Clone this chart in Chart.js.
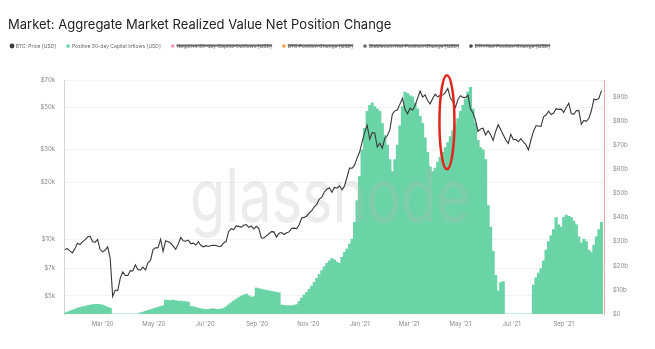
<!DOCTYPE html>
<html><head><meta charset="utf-8">
<script src="https://cdn.jsdelivr.net/npm/chart.js@4.4.1/dist/chart.umd.min.js"></script>
<style>
html,body{margin:0;padding:0;background:#fff;}
#wrap{position:relative;width:655px;height:349px;overflow:hidden;}
canvas{position:absolute;left:0;top:0;}
#title{position:absolute;left:8px;top:15px;font:400 13px Inter, sans-serif;color:#222;white-space:nowrap;line-height:18px;}
</style></head><body>
<div id="wrap"><canvas id="c" width="655" height="349"></canvas><div id="title">Market: Aggregate Market Realized Value Net Position Change</div></div>
<script>
// ---- data (sampled every 3 days) ----
const startDate = '2020-01-16';
const stepDays = 3;
const btcPrice = [
 8800,8900,8650,8450,8900,9500,9350,9700,9900,10250,
 10350,9700,9600,9950,8800,8550,8750,9100,7900,4950,
 5360,5330,6200,6700,6400,6400,6800,6770,7300,6900,
 6850,7100,6850,7500,7700,8800,8980,9000,9980,8600,
 9800,9680,9500,9180,8840,9400,10200,9800,9750,9880,
 9460,9520,9300,9680,9250,9100,9230,9130,9250,9280,
 9240,9130,9170,9530,9700,10950,11350,11230,11750,11680,
 11580,11850,11950,11550,11750,11330,11700,11400,10150,10130,
 10400,10680,10950,10920,10250,10730,10840,10580,10800,10920,
 11380,11430,11360,11920,12950,13040,13270,13740,14150,14830,
 15300,16320,16700,17800,18400,18750,17730,18800,18650,19200,
 18300,19150,21300,23850,23800,24700,27000,29000,32800,36800,
 40200,33900,36800,36600,30800,32300,30400,34300,35500,38000,
 46200,48000,48600,52100,56000,48900,46300,49600,48400,51200,
 56000,61200,56800,58300,54500,52300,55800,58800,57000,58000,
 58200,60000,63200,56200,53800,50100,55000,57800,56600,56400,
 58200,49200,46700,42900,37300,38400,38800,35700,37600,35800,
 33400,37300,40500,38100,35800,33700,32200,36000,33800,33800,
 32900,34200,32800,31800,29800,33600,37300,40000,39900,39700,
 44600,45600,47800,45900,46700,49300,48900,49000,47100,50000,
 52700,46400,46000,48100,48300,40700,42700,42200,43800,48200,
 55300,54900,56000,61500
];
// Positive 30-day Capital Inflows, billions USD
const positiveInflows = [
 0.4,0.8,1.2,1.6,2.0,2.4,2.7,3.0,3.2,3.5,
 3.7,3.9,4.0,4.0,3.9,3.7,3.3,2.8,2.4,0,
 0,0,0,0,0,0,0,0,0,0,
 0.5,0.8,1.1,1.5,1.8,2.2,2.5,2.8,3.1,3.4,
 5.8,5.7,5.6,5.8,5.5,5.3,5.4,5.1,5.2,4.9,
 3.1,3.0,2.8,2.4,2.2,2.0,1.8,1.9,2.1,2.2,
 2.0,1.9,2.1,2.4,3.0,3.8,4.6,5.4,6.1,6.8,
 7.4,7.9,8.3,7.6,7.0,7.2,10.8,10.5,10.3,10.0,
 9.8,9.6,9.4,9.2,9.0,8.8,3.7,3.6,3.4,3.5,
 3.4,3.6,3.9,5.2,6.6,7.9,9.0,10.3,11.6,13.2,
 14.8,16.4,18.0,19.6,21.0,22.0,23.0,22.4,21.5,21.0,
 23.5,25.6,27.0,29.0,31.0,38.0,47.0,57.0,68.0,77.0,
 84.0,86.5,87.5,86.0,85.0,84.0,79.0,74.0,70.0,64.0,
 59.0,64.0,70.0,78.0,86.0,92.0,91.5,90.5,90.0,87.5,
 85.0,82.0,79.0,73.0,67.0,61.0,59.0,60.5,63.0,65.0,
 67.0,69.0,71.0,73.5,76.0,78.5,81.0,84.0,86.5,89.0,
 92.0,94.0,85.0,79.0,72.0,69.0,68.0,64.0,45.0,36.0,
 26.0,16.0,9.6,13.0,13.5,0,0,0,0,0,
 0,0,0,0,0,0,12.0,15.0,17.0,18.8,
 22.0,26.5,30.0,32.5,35.0,40.0,37.0,36.0,40.0,41.0,
 40.5,40.0,38.5,37.0,32.0,29.5,31.0,30.0,26.5,25.5,
 28.5,32.0,35.0,38.0
];
const seriesLabels = [
 'BTC: Price [USD]',
 'Positive 30-day Capital Inflows [USD]',
 'Negative 30-day Capital Outflows [USD]',
 'BTC Position Change [USD]',
 'Stablecoin Net Position Change [USD]',
 'ETH Net Position Change [USD]'
];
const xTickDates = ['2020-03-01','2020-05-01','2020-07-01','2020-09-01','2020-11-01','2021-01-01','2021-03-01','2021-05-01','2021-07-01','2021-09-01'];
const xTickLabels = ["Mar '20","May '20","Jul '20","Sep '20","Nov '20","Jan '21","Mar '21","May '21","Jul '21","Sep '21"];
const leftTicks = [5000,7000,10000,20000,30000,50000,70000];
const leftTickLabels = ['$5k','$7k','$10k','$20k','$30k','$50k','$70k'];
const rightTicks = [0,10,20,30,40,50,60,70,80,90];
const rightTickLabels = ['$0','$10b','$20b','$30b','$40b','$50b','$60b','$70b','$80b','$90b'];
const xRange = ['2020-01-15','2021-10-19'];
const highlightDate = '2021-04-15';
const highlightRange = [60, 99];

// ---- helpers ----
const DAY = 86400000, EPOCH = Date.UTC(2020,0,1);
function dayOf(s){ const p = s.split('-').map(Number); return (Date.UTC(p[0],p[1]-1,p[2]) - EPOCH)/DAY; }
const x0 = dayOf(startDate);
const priceData = btcPrice.map((v,i)=>({x:x0+i*stepDays, y:v}));
const inflowData = positiveInflows.map((v,i)=>({x:x0+i*stepDays, y:v}));

Chart.defaults.font.family = 'Inter, sans-serif';

const legendSpacer = { id:'legendSpacer', beforeInit(chart){
  const fit = chart.legend.fit;
  chart.legend.fit = function(){ fit.call(this); this.height += 21.5; };
}};
const watermark = { id:'watermark', afterDatasetDraw(chart, args){
  if (args.index !== 1) return;
  const ctx = chart.ctx;
  ctx.save();
  ctx.font = '400 74px Inter, sans-serif';
  const w = ctx.measureText('glassnode').width;
  ctx.translate(190, 222);
  ctx.scale(280 / w, 1);
  ctx.fillStyle = 'rgba(185,185,185,0.27)';
  ctx.textBaseline = 'alphabetic';
  ctx.fillText('glassnode', 0, 0);
  ctx.restore();
}};
const highlight = { id:'highlight', afterDraw(chart){
  const {ctx, scales} = chart;
  const cx = scales.x.getPixelForValue(dayOf(highlightDate));
  const top = scales.yR.getPixelForValue(highlightRange[1]);
  const bot = scales.yR.getPixelForValue(highlightRange[0]);
  ctx.save();
  ctx.beginPath();
  ctx.ellipse(cx, (top+bot)/2, 7.5, (bot-top)/2, 0, 0, Math.PI*2);
  ctx.strokeStyle = '#e2261d';
  ctx.lineWidth = 2.5;
  ctx.stroke();
  ctx.restore();
}};

const tickFont = {size:6, family:'Inter, sans-serif'};
const tickColor = '#8a8a8a';

new Chart(document.getElementById('c'), {
  type:'bar',
  data:{ datasets:[
    {type:'line', label:seriesLabels[0], data:priceData, yAxisID:'yL', borderColor:'#383838', backgroundColor:'#383838', borderWidth:1.1, pointRadius:0, tension:0, order:0},
    {type:'bar', label:seriesLabels[1], data:inflowData, yAxisID:'yR', backgroundColor:'#6ad4a7', borderWidth:0, barPercentage:1, categoryPercentage:1, order:1},
    {type:'line', label:seriesLabels[2], data:[], yAxisID:'yR', hidden:true, borderColor:'#f29bb4', backgroundColor:'#f29bb4', borderWidth:0, order:2},
    {type:'line', label:seriesLabels[3], data:[], yAxisID:'yR', hidden:true, borderColor:'#f5a04a', backgroundColor:'#f5a04a', borderWidth:0, order:3},
    {type:'line', label:seriesLabels[4], data:[], yAxisID:'yR', hidden:true, borderColor:'#6b6b6b', backgroundColor:'#6b6b6b', borderWidth:0, order:4},
    {type:'line', label:seriesLabels[5], data:[], yAxisID:'yR', hidden:true, borderColor:'#4a4a4a', backgroundColor:'#4a4a4a', borderWidth:0, order:5}
  ]},
  options:{
    responsive:false, animation:false, devicePixelRatio:1,
    layout:{padding:{top:32.8, left:0, right:0, bottom:0}},
    plugins:{
      title:{display:false},
      tooltip:{enabled:false},
      legend:{display:true, position:'top', align:'start',
        labels:{usePointStyle:true, pointStyle:'circle', boxWidth:2.6, boxHeight:2.6, padding:10.7, color:'#666', font:{size:5, family:'Inter, sans-serif'}}}
    },
    scales:{
      x:{type:'linear', min:dayOf(xRange[0]), max:dayOf(xRange[1]), offset:false,
        grid:{display:false, drawTicks:false}, border:{display:false},
        afterBuildTicks(s){ s.ticks = xTickDates.map(d=>({value:dayOf(d)})); },
        afterFit(s){ s.height = 35; },
        ticks:{autoSkip:false, maxRotation:0, padding:7, color:tickColor, font:tickFont,
          callback:(v,i)=>xTickLabels[i]}},
      yL:{type:'logarithmic', position:'left', min:4000, max:70000,
        grid:{color:'#f3f3f3', drawTicks:false}, border:{display:true, color:'#d4d4d4'},
        afterBuildTicks(s){ s.ticks = leftTicks.map(v=>({value:v})); },
        afterFit(s){ s.width = 64; },
        ticks:{padding:9, color:tickColor, font:tickFont, callback:(v,i)=>leftTickLabels[i]}},
      yR:{type:'linear', position:'right', min:0, max:97,
        grid:{display:false, drawTicks:false}, border:{display:true, color:'#eeaaaa'},
        afterBuildTicks(s){ s.ticks = rightTicks.map(v=>({value:v})); },
        afterFit(s){ s.width = 51; },
        ticks:{padding:9, color:tickColor, font:tickFont, callback:(v,i)=>rightTickLabels[i]}}
    }
  },
  plugins:[legendSpacer, watermark, highlight]
});
</script>
</body></html>
